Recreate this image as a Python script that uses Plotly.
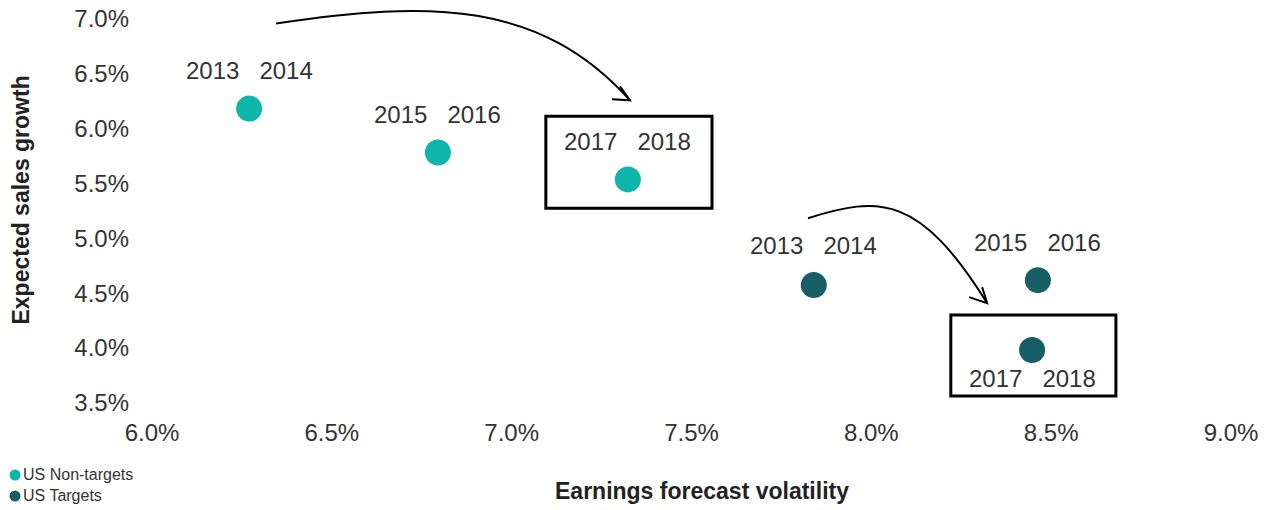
import plotly.graph_objects as go

# ---- data ----
series_names = ["US Non-targets", "US Targets"]
period_labels = ["2013&nbsp;&nbsp;&nbsp;2014", "2015&nbsp;&nbsp;&nbsp;2016", "2017&nbsp;&nbsp;&nbsp;2018"]
nontarget_vol = [6.27, 6.795, 7.323]
nontarget_growth = [6.18, 5.78, 5.535]
target_vol = [7.84, 8.463, 8.447]
target_growth = [4.573, 4.618, 3.982]
x_ticks = [6.0, 6.5, 7.0, 7.5, 8.0, 8.5, 9.0]
y_ticks = [3.5, 4.0, 4.5, 5.0, 5.5, 6.0, 6.5, 7.0]

c_nt = "#0DB5AB"
c_t = "#175E66"
txt = "#333333"
FONT = "Liberation Sans, Arial, sans-serif"

W, H = 1275, 510
ML, MR, MT, MB = 152, 44, 2, 107
PW, PH = W - ML - MR, H - MT - MB


def px_to_paper(px, py):
    return (px - ML) / PW, (H - MB - py) / PH


fig = go.Figure()
fig.add_trace(go.Scatter(x=nontarget_vol, y=nontarget_growth, mode="markers", name=series_names[0],
                         marker=dict(size=26, color=c_nt, line=dict(width=0)), showlegend=False))
fig.add_trace(go.Scatter(x=target_vol, y=target_growth, mode="markers", name=series_names[1],
                         marker=dict(size=26, color=c_t, line=dict(width=0)), showlegend=False))

annotations = []
label_shift_nt = [38, 38, 38]
label_shift_t = [40, 38, -28]
for xv, yv, lab, s in zip(nontarget_vol, nontarget_growth, period_labels, label_shift_nt):
    annotations.append(dict(x=xv, y=yv, text=lab, showarrow=False, yshift=s,
                            font=dict(size=24, color=txt, family=FONT)))
for xv, yv, lab, s in zip(target_vol, target_growth, period_labels, label_shift_t):
    annotations.append(dict(x=xv, y=yv, text=lab, showarrow=False, yshift=s,
                            font=dict(size=24, color=txt, family=FONT)))

# axis titles
annotations.append(dict(xref="paper", yref="paper", x=0.51, y=-0.22, text="<b>Earnings forecast volatility</b>",
                        showarrow=False, xanchor="center", yanchor="middle",
                        font=dict(size=23, color="#222222", family=FONT)))
annotations.append(dict(xref="paper", yref="paper", x=-0.121, y=0.506, text="<b>Expected sales growth</b>",
                        showarrow=False, textangle=-90, xanchor="center", yanchor="middle",
                        font=dict(size=23, color="#222222", family=FONT)))

shapes = []
# custom legend (bottom-left)
for name, col, py in zip(series_names, [c_nt, c_t], [475, 496]):
    x0, y0 = px_to_paper(9.5, py + 5.5)
    x1, y1 = px_to_paper(20.5, py - 5.5)
    shapes.append(dict(type="circle", xref="paper", yref="paper", x0=x0, x1=x1, y0=y0, y1=y1,
                       fillcolor=col, line=dict(width=0)))
    tx, ty = px_to_paper(21, py)
    annotations.append(dict(xref="paper", yref="paper", x=tx, y=ty, text=name, showarrow=False,
                            xanchor="left", yanchor="middle", font=dict(size=16, color=txt, family=FONT)))

# highlight boxes around the latest period
bx_nt = (nontarget_vol[2], nontarget_growth[2])
bx_t = (target_vol[2], target_growth[2])
shapes.append(dict(type="rect", x0=bx_nt[0] - 0.228, x1=bx_nt[0] + 0.234,
                   y0=bx_nt[1] - 0.262, y1=bx_nt[1] + 0.574, line=dict(color="black", width=3)))
shapes.append(dict(type="rect", x0=bx_t[0] - 0.226, x1=bx_t[0] + 0.233,
                   y0=bx_t[1] - 0.418, y1=bx_t[1] + 0.318, line=dict(color="black", width=3)))

# curved arrows
shapes.append(dict(type="path", path="M 6.345,6.955 C 6.773,7.164 7.079,7.164 7.329,6.255",
                   line=dict(color="black", width=2)))
shapes.append(dict(type="path", path="M 7.279,6.264 L 7.329,6.255 L 7.301,6.382",
                   line=dict(color="black", width=2)))
shapes.append(dict(type="path", path="M 7.824,5.182 C 8.024,5.391 8.135,5.391 8.322,4.409",
                   line=dict(color="black", width=2)))
shapes.append(dict(type="path", path="M 8.272,4.464 L 8.322,4.409 L 8.308,4.555",
                   line=dict(color="black", width=2)))

fig.update_layout(
    width=W, height=H,
    margin=dict(l=ML, r=MR, t=MT, b=MB, autoexpand=False),
    plot_bgcolor="white", paper_bgcolor="white",
    font=dict(family=FONT, color=txt),
    showlegend=False,
    annotations=annotations, shapes=shapes,
)
fig.update_xaxes(range=[6.0, 9.0], tickvals=x_ticks, ticktext=[f"{v:.1f}%" for v in x_ticks],
                 showgrid=False, zeroline=False, showline=False, ticks="", automargin=False,
                 tickfont=dict(size=24, color=txt), ticklabelstandoff=13)
fig.update_yaxes(range=[3.5, 7.15], tickvals=y_ticks, ticktext=[f"{v:.1f}%" for v in y_ticks],
                 showgrid=False, zeroline=False, showline=False, ticks="", automargin=False,
                 tickfont=dict(size=24, color=txt), ticklabelstandoff=22)

fig.write_html("out.html", config={"displayModeBar": False},
               post_script="document.body.style.margin='0px';document.body.style.overflow='hidden';")
